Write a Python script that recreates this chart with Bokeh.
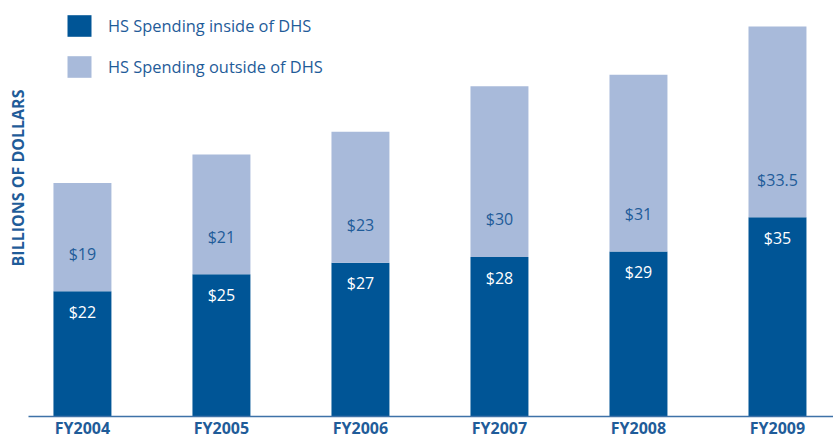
from bokeh.plotting import figure
from bokeh.models import Range1d, FixedTicker, Legend, LegendItem, ColumnDataSource, Title
from bokeh.core.properties import value
from bokeh.embed import file_html
from bokeh.resources import INLINE

years = ["FY2004", "FY2005", "FY2006", "FY2007", "FY2008", "FY2009"]
inside = [22, 25, 27, 28, 29, 35]
outside = [19, 21, 23, 30, 31, 33.5]
inside_labels = ["$22", "$25", "$27", "$28", "$29", "$35"]
outside_labels = ["$19", "$21", "$23", "$30", "$31", "$33.5"]

DARK = "#005596"
LIGHT = "#A8BADA"
TXT = "#1F5C99"
FONT = "Open Sans"

xs = list(range(len(years)))
totals = [a + b for a, b in zip(inside, outside)]
src = ColumnDataSource(dict(
    x=xs, inside=inside, total=totals,
    in_lab=inside_labels, out_lab=outside_labels,
    in_y=[v - 3.6 for v in inside],
    out_y=[v + 6.6 for v in inside],
))

p = figure(width=833, height=441, output_backend="svg", toolbar_location=None,
           x_range=Range1d(-0.388, 5.403), y_range=Range1d(0, 73.06),
           min_border_left=28, min_border_right=0, min_border_top=0, min_border_bottom=24,
           outline_line_color=None, background_fill_color="white", border_fill_color="white")
p.xgrid.visible = False
p.ygrid.visible = False
p.yaxis.visible = False

r_in = p.vbar(x="x", top="inside", bottom=0, width=0.417, source=src, fill_color=DARK, line_color=None)
r_out = p.vbar(x="x", top="total", bottom="inside", width=0.417, source=src, fill_color=LIGHT, line_color=None)

p.text(x="x", y="in_y", text="in_lab", source=src, text_align="center", text_baseline="middle",
       text_color="white", text_font=value(FONT), text_font_size="16px")
p.text(x="x", y="out_y", text="out_lab", source=src, text_align="center", text_baseline="middle",
       text_color=TXT, text_font=value(FONT), text_font_size="16px")

xa = p.xaxis[0]
xa.ticker = FixedTicker(ticks=xs)
xa.major_label_overrides = {i: y for i, y in zip(xs, years)}
xa.major_tick_line_color = None
xa.major_tick_out = 0
xa.major_tick_in = 0
xa.minor_tick_line_color = None
xa.axis_label_standoff = 0
xa.axis_line_color = "#3E72A8"
xa.axis_line_width = 1.5
xa.major_label_standoff = 0
xa.major_label_text_font = FONT
xa.major_label_text_font_size = "16px"
xa.major_label_text_font_style = "bold"
xa.major_label_text_color = TXT

ytitle = Title(text="BILLIONS OF DOLLARS", align="right", offset=89, standoff=0,
               text_font=FONT, text_font_size="16px", text_font_style="bold", text_color=TXT)
p.add_layout(ytitle, "left")

legend = Legend(items=[LegendItem(label="HS Spending inside of DHS", renderers=[r_in]),
                       LegendItem(label="HS Spending outside of DHS", renderers=[r_out])],
                location=(36, 336), orientation="vertical",
                glyph_width=30, glyph_height=27, label_height=27, spacing=14,
                label_standoff=14, padding=0, margin=0,
                border_line_color=None, background_fill_alpha=0,
                label_text_font=FONT, label_text_font_size="16.4px", label_text_color=TXT)
p.add_layout(legend, "center")

open("out.html", "w").write(file_html(p, INLINE))
